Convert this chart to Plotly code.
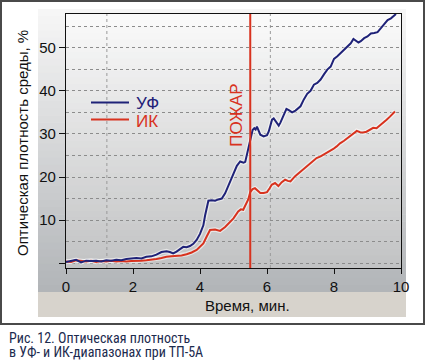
import plotly.graph_objects as go

# ---- data ----
uv_t = [0, 0.15, 0.3, 0.45, 0.6, 0.75, 0.9, 1.05, 1.2, 1.35, 1.5, 1.65, 1.8, 1.95,
        2.1, 2.25, 2.4, 2.55, 2.7, 2.85, 3.0, 3.1, 3.2, 3.3, 3.4, 3.5, 3.6, 3.7, 3.8,
        3.9, 4.0, 4.1, 4.15, 4.2, 4.25, 4.35, 4.45, 4.55, 4.65, 4.75, 4.85, 5.0, 5.1,
        5.2, 5.3, 5.35, 5.4, 5.47, 5.52, 5.57, 5.62, 5.66, 5.7, 5.75, 5.8, 5.9, 6.0,
        6.05, 6.1, 6.15, 6.2, 6.25, 6.3, 6.35, 6.4, 6.5, 6.58, 6.65, 6.75, 6.85, 7.0,
        7.1, 7.2, 7.3, 7.4, 7.5, 7.6, 7.7, 7.8, 7.9, 8.0, 8.1, 8.2, 8.3, 8.4, 8.5,
        8.58, 8.65, 8.73, 8.8, 8.9, 9.0, 9.1, 9.2, 9.3, 9.4, 9.5, 9.6, 9.7, 9.8, 9.85]
uv_v = [0.3, 0.5, 0.8, 0.2, 0.6, 0.5, 0.6, 0.4, 0.7, 0.6, 0.8, 0.7, 1.0, 1.1,
        1.2, 1.1, 1.5, 1.6, 2.0, 2.6, 2.8, 2.6, 2.3, 2.7, 3.3, 3.8, 3.7, 4.0, 4.5,
        5.4, 6.8, 8.8, 11.0, 13.2, 14.5, 14.6, 14.5, 14.8, 15.0, 16.2, 18.0, 20.4, 22.6,
        23.6, 23.3, 23.5, 25.2, 27.4, 29.6, 30.9, 31.3, 31.0, 31.7, 30.6, 29.8, 29.4, 29.7,
        30.5, 32.0, 33.3, 33.6, 33.0, 32.2, 31.9, 32.6, 34.4, 35.8, 35.5, 35.0, 35.4, 36.4,
        38.0, 39.3, 40.0, 41.4, 41.8, 42.6, 43.8, 44.9, 45.6, 47.4, 48.0, 48.8, 49.4, 50.4, 51.0,
        52.0, 51.6, 51.2, 51.5, 52.2, 52.6, 53.3, 53.4, 53.6, 54.5, 55.4, 56.4, 56.8, 57.4, 57.8]

ir_t = [0, 0.15, 0.3, 0.45, 0.6, 0.75, 0.9, 1.05, 1.2, 1.35, 1.5, 1.65, 1.8, 1.95,
        2.1, 2.25, 2.4, 2.55, 2.7, 2.85, 3.0, 3.15, 3.3, 3.45, 3.6, 3.75, 3.9, 4.0,
        4.1, 4.2, 4.3, 4.45, 4.6, 4.75, 4.9, 5.0, 5.14, 5.22, 5.29, 5.36, 5.44, 5.5,
        5.57, 5.64, 5.72, 5.8, 5.9, 6.0, 6.08, 6.14, 6.24, 6.34, 6.44, 6.54, 6.62, 6.7,
        6.84, 7.0, 7.18, 7.38, 7.48, 7.6, 7.78, 7.9, 7.98, 8.08, 8.18, 8.3, 8.4, 8.5,
        8.58, 8.68, 8.78, 8.87, 8.97, 9.07, 9.17, 9.27, 9.37, 9.47, 9.57, 9.67, 9.75, 9.82]
ir_v = [0.4, 0.3, 0.7, 0.5, 0.4, 0.6, 0.3, 0.5, 0.4, 0.6, 0.4, 0.5, 0.4, 0.5,
        0.5, 0.6, 0.7, 0.8, 1.0, 1.2, 1.5, 1.6, 1.7, 1.8, 2.1, 2.5, 3.1, 3.8,
        4.6, 6.2, 7.7, 7.8, 7.5, 8.4, 9.6, 10.4, 12.0, 12.5, 12.4, 13.5, 14.8, 16.5,
        17.2, 17.4, 16.8, 16.3, 16.3, 16.5, 17.4, 18.2, 18.6, 17.9, 18.8, 19.4, 19.1, 19.0,
        20.2, 21.2, 22.4, 23.6, 24.4, 24.8, 25.6, 26.0, 26.5, 27.1, 27.8, 28.4, 29.0, 29.5,
        29.9, 30.7, 30.4, 30.3, 30.5, 31.0, 31.4, 31.3, 31.9, 32.6, 33.3, 34.0, 34.6, 35.2]

fire_time = [5.5]
series_names = ["УФ", "ИК"]
x_ticks = [0, 2, 4, 6, 8, 10]
y_ticks = [0, 10, 20, 30, 40, 50]
y_ticklabels = ["", "10", "20", "30", "40", "50"]
caption_lines = ["Рис. 12. Оптическая плотность", "в УФ- и ИК-диапазонах при ТП-5А"]

BLUE = "#1f2278"
RED = "#d8321e"
FONT = "Liberation Sans, Arial, Helvetica, sans-serif"

W, H = 426, 361
PX0, PX1, PY0, PY1 = 66, 401, 14, 268   # plot area in pixels


def px(x):
    return (x - PX0) / (PX1 - PX0)


def py(y):
    return (PY1 - y) / (PY1 - PY0)


def hexmix(c1, c2, f):
    a = [int(c1[i:i + 2], 16) for i in (1, 3, 5)]
    b = [int(c2[i:i + 2], 16) for i in (1, 3, 5)]
    return "rgb(%d,%d,%d)" % tuple(round(a[k] + (b[k] - a[k]) * f) for k in range(3))


def gradient(x0, x1, y0, y1, ctop, cbot, n=40):
    out = []
    step = (y1 - y0) / n
    for i in range(n):
        f = i / (n - 1)
        out.append(dict(type="rect", xref="paper", yref="paper", layer="below",
                        x0=px(x0), x1=px(x1), y0=py(y0 + i * step), y1=py(y0 + (i + 1) * step + 0.6),
                        line=dict(width=0), fillcolor=hexmix(ctop, cbot, f)))
    return out


shapes = []
# outer frame
shapes.append(dict(type="rect", xref="paper", yref="paper", layer="below",
                   x0=px(1), x1=px(424), y0=py(1), y1=py(324),
                   line=dict(color="#4a4a4a", width=2), fillcolor="white"))
# gray panel
shapes += gradient(38, 406, 9, 292, "#f6f6f6", "#b2b5b8")
# title band
shapes.append(dict(type="rect", xref="paper", yref="paper", layer="below",
                   x0=px(38), x1=px(406), y0=py(292), y1=py(317),
                   line=dict(width=0), fillcolor="#d7d3cc"))
# plot area
shapes += gradient(PX0, PX1, PY0, PY1, "#fafafa", "#c2c3c4")
# vertical dotted grid
for gx in (1.22, 6.1):
    shapes.append(dict(type="line", xref="x", yref="paper", layer="below",
                       x0=gx, x1=gx, y0=0, y1=1,
                       line=dict(color="#9a9a9a", width=1, dash="dot")))
# fire line
for ft in fire_time:
    shapes.append(dict(type="line", xref="x", yref="paper", layer="above",
                       x0=ft, x1=ft, y0=0, y1=1, line=dict(color=RED, width=2)))
# legend lines
shapes.append(dict(type="line", xref="paper", yref="paper", x0=px(91), x1=px(129),
                   y0=py(102.5), y1=py(102.5), line=dict(color=BLUE, width=2)))
shapes.append(dict(type="line", xref="paper", yref="paper", x0=px(91), x1=px(129),
                   y0=py(119.5), y1=py(119.5), line=dict(color=RED, width=2)))

fig = go.Figure()
for t, v in ((ir_t, ir_v), (uv_t, uv_v)):
    fig.add_trace(go.Scatter(x=t, y=v, mode="lines", showlegend=False, hoverinfo="skip",
                             line=dict(color="rgba(255,255,255,0.55)", width=4.5)))
fig.add_trace(go.Scatter(x=ir_t, y=ir_v, mode="lines", name=series_names[1],
                         line=dict(color=RED, width=2), showlegend=False))
fig.add_trace(go.Scatter(x=uv_t, y=uv_v, mode="lines", name=series_names[0],
                         line=dict(color=BLUE, width=2), showlegend=False))

CAP_FONT = dict(family="Liberation Sans Narrow, Arial Narrow, Roboto Condensed, " + FONT,
                size=14, color="#1c2b4e")

annotations = [
    dict(text="ПОЖАР", x=fire_time[0], xref="x", y=py(82), yref="paper", xshift=-14,
         textangle=-90, showarrow=False, font=dict(family=FONT, size=17, color=RED)),
    dict(text=series_names[0], x=px(134), y=py(103), xref="paper", yref="paper",
         xanchor="left", yanchor="middle", showarrow=False,
         font=dict(family=FONT, size=17, color=BLUE)),
    dict(text=series_names[1], x=px(134), y=py(121), xref="paper", yref="paper",
         xanchor="left", yanchor="middle", showarrow=False,
         font=dict(family=FONT, size=17, color=RED)),
    dict(text="Время, мин.", x=px(248), y=py(305), xref="paper", yref="paper",
         xanchor="center", yanchor="middle", showarrow=False,
         font=dict(family=FONT, size=15, color="#111")),
    dict(text="Оптическая плотность среды, %", x=px(22), y=py(143), xref="paper", yref="paper",
         xanchor="center", yanchor="middle", textangle=-90, showarrow=False,
         font=dict(family=FONT, size=15, color="#111")),
    dict(text=caption_lines[0], x=px(7), y=py(338), xref="paper", yref="paper",
         xanchor="left", yanchor="middle", showarrow=False, font=CAP_FONT),
    dict(text=caption_lines[1], x=px(7), y=py(351.5), xref="paper", yref="paper",
         xanchor="left", yanchor="middle", showarrow=False, font=CAP_FONT),
]

fig.update_layout(
    width=W, height=H, autosize=False,
    margin=dict(l=PX0, r=W - PX1, t=PY0, b=H - PY1, pad=0),
    paper_bgcolor="white", plot_bgcolor="rgba(0,0,0,0)",
    shapes=shapes, annotations=annotations, showlegend=False,
    xaxis=dict(range=[0, 10], tickvals=x_ticks, ticks="outside", ticklen=5, tickwidth=1,
               tickcolor="#111", showgrid=False, zeroline=False, showline=True, mirror=True,
               linecolor="#111", linewidth=1.2,
               tickfont=dict(family=FONT, size=15, color="#111")),
    yaxis=dict(range=[-1.1, 57.8], tickvals=y_ticks, ticktext=y_ticklabels, ticks="outside",
               ticklen=6, tickwidth=1, tickcolor="#111", showgrid=True, gridcolor="#8c8c8c",
               griddash="dot", gridwidth=1, zeroline=False, showline=True, mirror=True,
               linecolor="#111", linewidth=1.2,
               minor=dict(tickvals=[5, 15, 25, 35, 45, 55], showgrid=True, gridcolor="#8c8c8c",
                          griddash="dot", gridwidth=1, ticks=""),
               tickfont=dict(family=FONT, size=15, color="#111")),
)

fig.write_html("out.html", config={"displayModeBar": False},
               post_script="document.body.style.margin='0px';document.body.style.padding='0px';")
